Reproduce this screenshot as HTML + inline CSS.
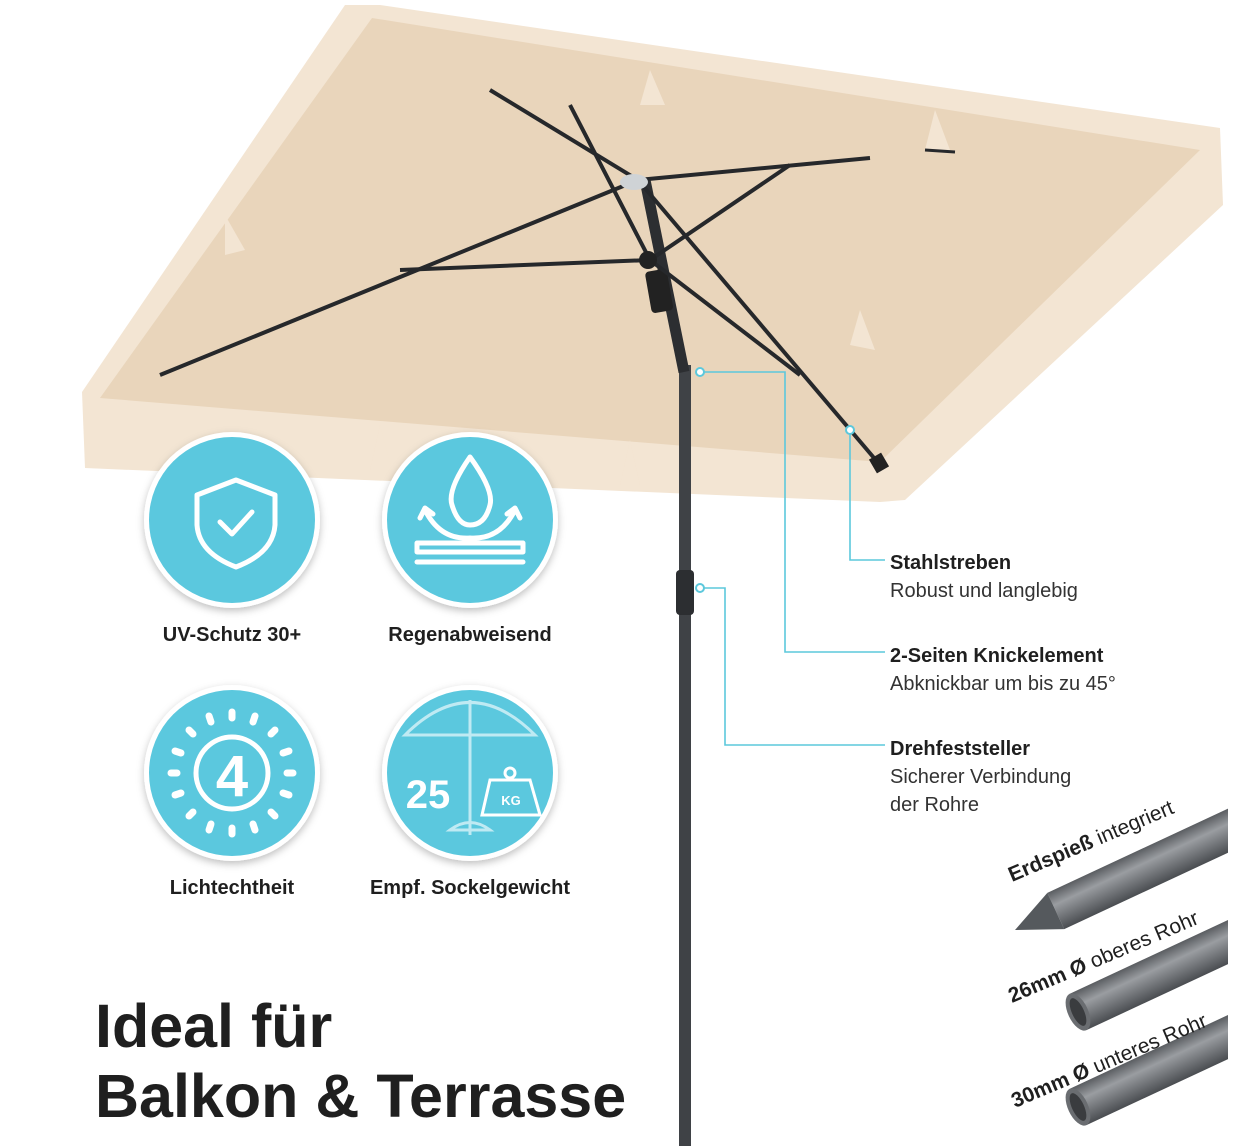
<!DOCTYPE html>
<html><head><meta charset="utf-8"><style>
html,body{margin:0;padding:0;background:#fff;}
svg{display:block;}
text{font-family:"Liberation Sans",sans-serif;}
</style></head><body>
<svg width="1250" height="1146" viewBox="0 0 1250 1146" xmlns="http://www.w3.org/2000/svg">
<defs>
<linearGradient id="rod" x1="0" y1="0" x2="0" y2="1">
<stop offset="0" stop-color="#5a5d61"/><stop offset="0.35" stop-color="#9a9da1"/><stop offset="1" stop-color="#4a4d51"/>
</linearGradient>
<clipPath id="rc"><rect x="0" y="0" width="1228" height="1146"/></clipPath>
<filter id="sh" x="-20%" y="-20%" width="140%" height="140%"><feDropShadow dx="0" dy="3" stdDeviation="4" flood-color="#000" flood-opacity="0.25"/></filter>
</defs>
<!-- canopy -->
<polygon points="345,5 380,5 1220,128 1223,205 905,500 880,502 85,468 82,392" fill="#f3e5d3"/>
<polygon points="372,18 1200,150 880,462 100,398" fill="#e9d5bb"/>
<path d="M225,215 L245,250 L225,255Z M650,70 L665,105 L640,105Z M935,110 L950,150 L925,150Z M380,425 L392,470 L370,470Z M630,440 L640,485 L620,485Z M860,310 L875,350 L850,345Z" fill="#f3e5d3"/>
<!-- pole -->
<rect x="679" y="365" width="12" height="781" fill="#3f4246"/>
<rect x="676" y="570" width="18" height="45" rx="4" fill="#2c2e31"/>
<line x1="645" y1="180" x2="684" y2="372" stroke="#2c2e31" stroke-width="11"/>
<rect x="648" y="270" width="22" height="42" rx="4" fill="#222" transform="rotate(-10 659 290)"/>
<g stroke="#26282b" stroke-width="4" fill="none">
<line x1="638" y1="180" x2="490" y2="90"/>
<line x1="638" y1="180" x2="870" y2="158"/>
<line x1="638" y1="180" x2="160" y2="375"/>
<line x1="638" y1="180" x2="880" y2="465"/>
<line x1="650" y1="260" x2="400" y2="270"/>
<line x1="650" y1="260" x2="570" y2="105"/>
<line x1="650" y1="260" x2="790" y2="165"/>
<line x1="650" y1="260" x2="800" y2="375"/>
<line x1="925" y1="150" x2="955" y2="152" stroke-width="3"/>
</g>
<ellipse cx="634" cy="182" rx="14" ry="8" fill="#cfd3d6"/>
<circle cx="648" cy="260" r="9" fill="#222"/>
<rect x="872" y="455" width="14" height="16" fill="#222" transform="rotate(-30 879 463)"/>
<!-- callouts -->
<g stroke="#5cc8dc" stroke-width="1.6" fill="none">
<polyline points="700,372 785,372 785,652 885,652"/>
<polyline points="850,430 850,560 885,560"/>
<polyline points="700,588 725,588 725,745 885,745"/>
</g>
<g fill="#fff" stroke="#5cc8dc" stroke-width="2">
<circle cx="700" cy="372" r="4"/><circle cx="850" cy="430" r="4"/><circle cx="700" cy="588" r="4"/>
</g>
<g font-size="20" fill="#1f1f1f">
<text x="890" y="569" font-weight="bold">Stahlstreben</text>
<text x="890" y="597" fill="#333">Robust und langlebig</text>
<text x="890" y="662" font-weight="bold">2-Seiten Knickelement</text>
<text x="890" y="690" fill="#333">Abknickbar um bis zu 45°</text>
<text x="890" y="755" font-weight="bold">Drehfeststeller</text>
<text x="890" y="783" fill="#333">Sicherer Verbindung</text>
<text x="890" y="811" fill="#333">der Rohre</text>
</g>
<!-- icons -->
<g filter="url(#sh)">
<circle cx="232" cy="520" r="88" fill="#fff"/><circle cx="470" cy="520" r="88" fill="#fff"/>
<circle cx="232" cy="773" r="88" fill="#fff"/><circle cx="470" cy="773" r="88" fill="#fff"/>
</g>
<g fill="#5bc8de">
<circle cx="232" cy="520" r="83"/><circle cx="470" cy="520" r="83"/>
<circle cx="232" cy="773" r="83"/><circle cx="470" cy="773" r="83"/>
</g>
<g stroke="#fff" stroke-width="5" fill="none" stroke-linecap="round" stroke-linejoin="round">
<path d="M236,480 L275,495 L275,525 Q273,553 236,567 Q199,553 197,525 L197,495Z"/>
<path d="M220,522 L232,534 L252,512"/>
<path d="M470,457 Q447,490 452,505 Q458,525 470,525 Q485,525 490,505 Q494,490 470,457Z"/>
<path d="M425,510 Q440,540 470,538 Q500,540 515,510"/>
<path d="M420,518 L425,508 L433,514 M520,518 L515,508 L507,514"/>
<rect x="417" y="543" width="106" height="9"/>
<line x1="417" y1="562" x2="523" y2="562"/>
<circle cx="232" cy="773" r="36"/>
</g>
<g stroke="#fff" stroke-width="7" stroke-linecap="round">
<line x1="232" y1="712" x2="232" y2="718"/><line x1="232" y1="828" x2="232" y2="834"/>
<line x1="171" y1="773" x2="177" y2="773"/><line x1="287" y1="773" x2="293" y2="773"/>
<line x1="189" y1="730" x2="193" y2="734"/><line x1="271" y1="812" x2="275" y2="816"/>
<line x1="275" y1="730" x2="271" y2="734"/><line x1="193" y1="812" x2="189" y2="816"/>
<line x1="209" y1="716" x2="211" y2="722"/><line x1="255" y1="716" x2="253" y2="722"/>
<line x1="209" y1="830" x2="211" y2="824"/><line x1="255" y1="830" x2="253" y2="824"/>
<line x1="175" y1="751" x2="181" y2="753"/><line x1="289" y1="751" x2="283" y2="753"/>
<line x1="175" y1="795" x2="181" y2="793"/><line x1="289" y1="795" x2="283" y2="793"/>
</g>
<text x="232" y="796" font-size="58" font-weight="bold" fill="#fff" text-anchor="middle">4</text>
<g stroke="#bfeaf3" stroke-width="3" fill="none">
<path d="M405,735 Q470,670 535,735 Z"/><line x1="470" y1="700" x2="470" y2="835"/>
<path d="M450,830 Q470,815 490,830Z"/>
</g>
<text x="428" y="808" font-size="40" font-weight="bold" fill="#fff" text-anchor="middle">25</text>
<path d="M490,780 L530,780 L540,815 L482,815Z" fill="none" stroke="#fff" stroke-width="3"/>
<circle cx="510" cy="773" r="5" fill="none" stroke="#fff" stroke-width="3"/>
<text x="511" y="805" font-size="13" font-weight="bold" fill="#fff" text-anchor="middle">KG</text>
<g font-size="20" font-weight="bold" fill="#1f1f1f" text-anchor="middle">
<text x="232" y="641">UV-Schutz 30+</text>
<text x="470" y="641">Regenabweisend</text>
<text x="232" y="894">Lichtechtheit</text>
<text x="470" y="894">Empf. Sockelgewicht</text>
</g>
<g font-size="61" font-weight="bold" fill="#1f1f1f">
<text x="95" y="1047">Ideal für</text>
<text x="95" y="1117">Balkon &amp; Terrasse</text>
</g>
<!-- rods -->
<g clip-path="url(#rc)">
<g transform="translate(1015,930) rotate(-25)">
<rect x="45" y="-20" width="220" height="40" fill="url(#rod)"/>
<polygon points="45,-20 45,20 0,0" fill="#55595d"/>
</g>
<g transform="translate(1078,1012) rotate(-25)">
<rect x="0" y="-20" width="200" height="40" fill="url(#rod)"/>
<ellipse cx="0" cy="0" rx="10" ry="20" fill="#6a6d71"/>
<ellipse cx="0" cy="0" rx="6" ry="15" fill="#3a3c3f"/>
</g>
<g transform="translate(1078,1107) rotate(-25)">
<rect x="0" y="-20" width="200" height="40" fill="url(#rod)"/>
<ellipse cx="0" cy="0" rx="10" ry="20" fill="#6a6d71"/>
<ellipse cx="0" cy="0" rx="6" ry="15" fill="#3a3c3f"/>
</g>
</g>
<g font-size="21" fill="#1f1f1f">
<text transform="translate(1012,882) rotate(-23)"><tspan font-weight="bold">Erdspieß</tspan> integriert</text>
<text transform="translate(1012,1003) rotate(-23)"><tspan font-weight="bold">26mm Ø</tspan> oberes Rohr</text>
<text transform="translate(1015,1108) rotate(-23)"><tspan font-weight="bold">30mm Ø</tspan> unteres Rohr</text>
</g>
</svg>
</body></html>
